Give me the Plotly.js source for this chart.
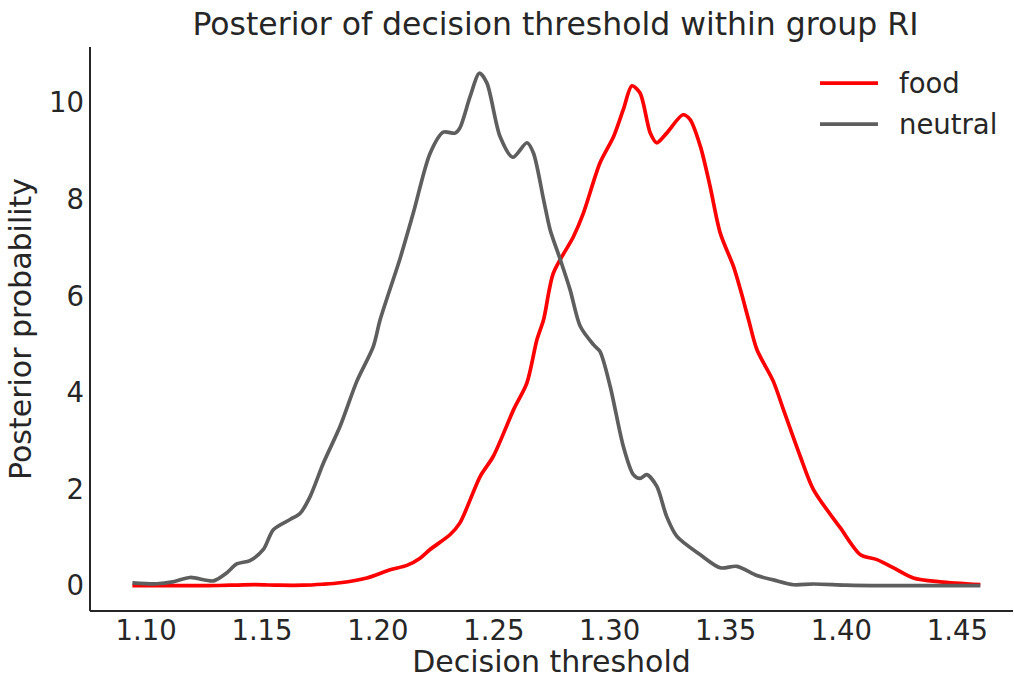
<!DOCTYPE html>
<html>
<head>
<meta charset="utf-8">
<script src="https://cdn.plot.ly/plotly-3.0.1.min.js"></script>
<style>
  html, body { margin: 0; padding: 0; background: #ffffff; }
  #chart { width: 1014px; height: 679px; }
</style>
</head>
<body>
<div id="chart"></div>
<script>
// Posterior density of the decision threshold, group RI
const foodX = [1.0941, 1.1052, 1.1157, 1.1261, 1.1365, 1.1469, 1.1573, 1.1677, 1.1761, 1.1837,
  1.1952, 1.2053, 1.2125, 1.2182, 1.2225, 1.2312, 1.2354, 1.2441, 1.2498, 1.2585,
  1.2643, 1.2686, 1.2715, 1.2757, 1.2844, 1.2887, 1.2958, 1.3017, 1.3059, 1.3096,
  1.3131, 1.3175, 1.3203, 1.3246, 1.3316, 1.3347, 1.3391, 1.3433, 1.3477, 1.3534,
  1.3564, 1.3599, 1.3635, 1.3706, 1.3750, 1.3822, 1.3879, 1.3996, 1.4082, 1.4153,
  1.4225, 1.4310, 1.4426, 1.4599];
const foodY = [0.00, 0.00, 0.00, 0.00, 0.01, 0.02, 0.01, 0.01, 0.03, 0.06,
  0.16, 0.33, 0.42, 0.57, 0.75, 1.06, 1.30, 2.26, 2.68, 3.64,
  4.20, 5.09, 5.51, 6.47, 7.23, 7.72, 8.75, 9.30, 9.86, 10.35,
  10.20, 9.37, 9.17, 9.37, 9.75, 9.65, 9.10, 8.27, 7.30, 6.61,
  6.13, 5.51, 4.89, 4.23, 3.64, 2.68, 1.99, 1.19, 0.64, 0.54,
  0.37, 0.16, 0.08, 0.02];

const neutralX = [1.0941, 1.1046, 1.1115, 1.1190, 1.1291, 1.1344, 1.1391, 1.1448, 1.1506, 1.1549,
  1.1621, 1.1665, 1.1708, 1.1765, 1.1837, 1.1909, 1.1980, 1.2010, 1.2096, 1.2153,
  1.2225, 1.2282, 1.2333, 1.2354, 1.2398, 1.2438, 1.2470, 1.2527, 1.2582, 1.2643,
  1.2671, 1.2715, 1.2743, 1.2787, 1.2829, 1.2873, 1.2930, 1.2958, 1.3002, 1.3059,
  1.3102, 1.3131, 1.3160, 1.3203, 1.3246, 1.3290, 1.3391, 1.3477, 1.3549, 1.3635,
  1.3706, 1.3793, 1.3879, 1.4021, 1.4177, 1.4385, 1.4599];
const neutralY = [0.06, 0.04, 0.08, 0.17, 0.10, 0.25, 0.45, 0.52, 0.75, 1.16,
  1.37, 1.50, 1.85, 2.54, 3.30, 4.23, 4.95, 5.51, 6.78, 7.72,
  8.95, 9.39, 9.37, 9.48, 10.13, 10.61, 10.41, 9.30, 8.87, 9.17,
  8.96, 7.99, 7.37, 6.75, 6.13, 5.37, 4.99, 4.85, 4.13, 2.88,
  2.30, 2.22, 2.30, 2.06, 1.43, 1.02, 0.64, 0.37, 0.40, 0.21,
  0.12, 0.02, 0.035, 0.01, 0.00, 0.00, 0.00];

const seriesNames = ['food', 'neutral'];
const seriesColors = ['#ff0000', '#5e5e5e'];
const xTicks = [1.10, 1.15, 1.20, 1.25, 1.30, 1.35, 1.40, 1.45];
const xTickText = ['1.10', '1.15', '1.20', '1.25', '1.30', '1.35', '1.40', '1.45'];
const yTicks = [0, 2, 4, 6, 8, 10];

const ink = '#262626';
const font = 'DejaVu Sans, sans-serif';
const lineW = 3.7;

const traces = [
  { x: foodX, y: foodY, name: seriesNames[0], type: 'scatter', mode: 'lines',
    line: { color: seriesColors[0], width: lineW, shape: 'spline', smoothing: 0.8 } },
  { x: neutralX, y: neutralY, name: seriesNames[1], type: 'scatter', mode: 'lines',
    line: { color: seriesColors[1], width: lineW, shape: 'spline', smoothing: 0.8 } }
];

// hand-placed legend (long line samples)
const legendRows = [0.9361, 0.8632];
const shapes = [
  // left spine
  { type: 'line', xref: 'paper', yref: 'paper', x0: 0, x1: 0, y0: 0, y1: 1,
    line: { color: ink, width: 2 } },
  // bottom spine
  { type: 'line', xref: 'paper', yref: 'paper', x0: 0, x1: 1, y0: 0, y1: 0,
    line: { color: ink, width: 2 } }
];
const annotations = [];
seriesNames.forEach((nm, i) => {
  shapes.push({ type: 'line', xref: 'paper', yref: 'paper',
    x0: 0.7909, x1: 0.8537, y0: legendRows[i], y1: legendRows[i],
    line: { color: seriesColors[i], width: lineW } });
  annotations.push({ xref: 'paper', yref: 'paper', x: 0.8745, y: legendRows[i],
    xanchor: 'left', yanchor: 'middle', showarrow: false, text: nm,
    font: { family: font, size: 27.5, color: ink } });
});

const layout = {
  width: 1014, height: 679,
  paper_bgcolor: '#ffffff', plot_bgcolor: '#ffffff',
  margin: { l: 90, r: 1, t: 47, b: 68 },
  showlegend: false,
  font: { family: font, color: ink },
  title: { text: 'Posterior of decision threshold within group RI',
    font: { family: font, size: 31.5, color: ink },
    x: 0.5478, xanchor: 'center', y: 0.965, yanchor: 'middle' },
  xaxis: {
    range: [1.0758, 1.4740], tickvals: xTicks, ticktext: xTickText,
    showgrid: false, zeroline: false, showline: false, ticks: '',
    tickfont: { family: font, size: 27.5, color: ink },
    title: { text: 'Decision threshold', font: { family: font, size: 30, color: ink }, standoff: 11 }
  },
  yaxis: {
    range: [-0.524, 11.153], tickvals: yTicks,
    showgrid: false, zeroline: false, showline: false, ticks: '',
    ticklabelstandoff: 5,
    tickfont: { family: font, size: 27.5, color: ink },
    title: { text: 'Posterior probability', font: { family: font, size: 30, color: ink }, standoff: 8 }
  },
  shapes: shapes,
  annotations: annotations
};

Plotly.newPlot('chart', traces, layout, { displayModeBar: false, staticPlot: true });
</script>
</body>
</html>
